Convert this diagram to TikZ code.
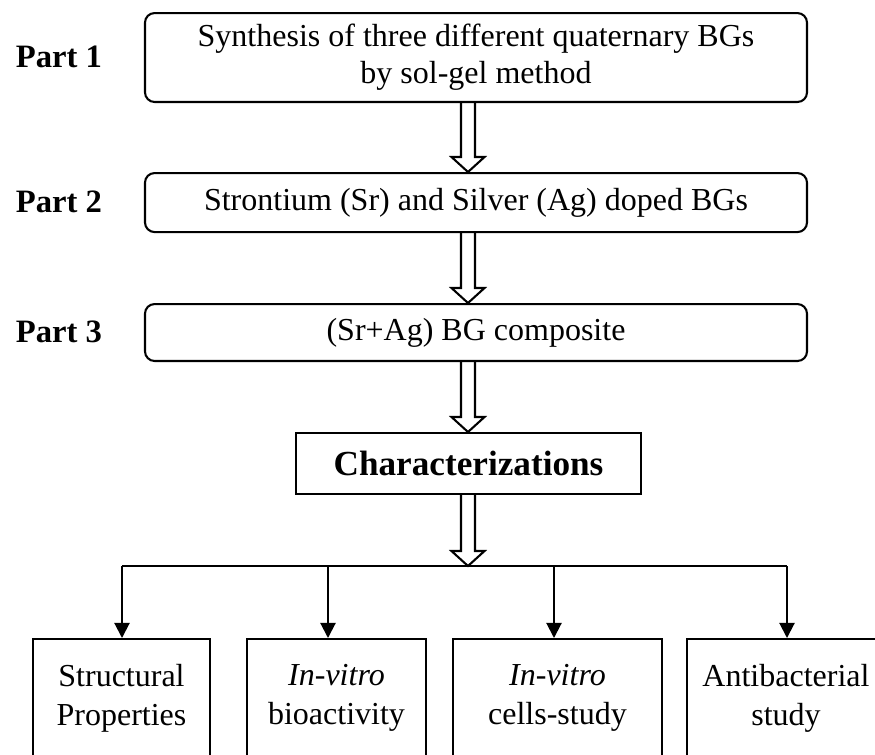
\documentclass[tikz,border=0pt]{standalone}
\usepackage{fontspec}
\setmainfont{Liberation Serif}
\usetikzlibrary{arrows.meta,calc}

% hollow block arrow along the spine, from the bottom of #1 to the top of #2
\newcommand{\hollowarrow}[2]{%
	\draw[hollow] ($(spine |- #1.south)+(-7,0)$) -- ($(spine |- #2.north)+(-7,-15)$)
		-- ($(spine |- #2.north)+(-16.5,-15)$) -- (spine |- #2.north)
		-- ($(spine |- #2.north)+(16.5,-15)$) -- ($(spine |- #2.north)+(7,-15)$)
		-- ($(spine |- #1.south)+(7,0)$);}

\begin{document}
\begin{tikzpicture}[x=0.625pt, y=-0.625pt, >={Triangle[length=9.4pt,width=9.4pt]},
	every node/.style={inner sep=1pt, font=\fontsize{20}{23}\selectfont},
	part/.style={anchor=west, font=\fontsize{20.4}{23}\selectfont\bfseries},
	stage/.style={draw, line width=1.3pt, rounded corners=6pt, anchor=north,
		minimum width=413.75pt, align=center},
	resultbox/.style={draw, line width=1.3pt, anchor=north, minimum height=73.75pt,
		align=center, font=\fontsize{20}{24.4}\selectfont},
	hollow/.style={line width=1.3pt, line join=miter},
	branch/.style={line width=1.25pt}]
	\useasboundingbox (0,0) rectangle (875,754);
	\clip (0,0) rectangle (875,754);
	\coordinate (spine) at (468,0);

	% Parts
	\node[stage, minimum height=55.6pt] (synth) at (476,12)
		{Synthesis of three different quaternary BGs\\by sol-gel method};
	\node[stage, minimum height=36.9pt] (doped) at (476,172)
		{Strontium (Sr) and Silver (Ag) doped BGs};
	\node[stage, minimum height=35.6pt] (compo) at (476,303) {(Sr+Ag) BG composite};
	\node[part] (part1) at (14,56.5) {Part 1};
	\node[part] (part2) at (14,201.5) {Part 2};
	\node[part] (part3) at (14,331.5) {Part 3};

	% Characterizations
	\node[draw, line width=1.3pt, anchor=north, minimum width=215.6pt, minimum height=38.1pt,
		font=\fontsize{22}{24}\selectfont\bfseries] (charac) at (468.5,432) {Characterizations};
	\coordinate (hub) at (468,566);

	\hollowarrow{synth}{doped}
	\hollowarrow{compo}{charac}
	\hollowarrow{doped}{compo}
	\hollowarrow{charac}{hub}

	% Results
	\node[resultbox, minimum width=110.6pt] (struct) at (121.5,638) {Structural\\Properties};
	\node[resultbox, minimum width=111.9pt] (bioact) at (336.5,638) {\textit{In-vitro}\\bioactivity};
	\node[resultbox, minimum width=130.6pt] (cells) at (557.5,638) {\textit{In-vitro}\\cells-study};
	\node[resultbox, minimum width=123.75pt] (antib) at (786,638) {Antibacterial\\study};

	\coordinate (b1) at (122,566);
	\coordinate (b2) at (328,566);
	\coordinate (b3) at (554,566);
	\coordinate (b4) at (787,566);
	\draw[branch] (b1) -- (b4);
	\foreach \b/\n in {b1/struct, b2/bioact, b3/cells, b4/antib}
		\draw[branch, ->] (\b) -- (\b |- \n.north);
\end{tikzpicture}
\end{document}
